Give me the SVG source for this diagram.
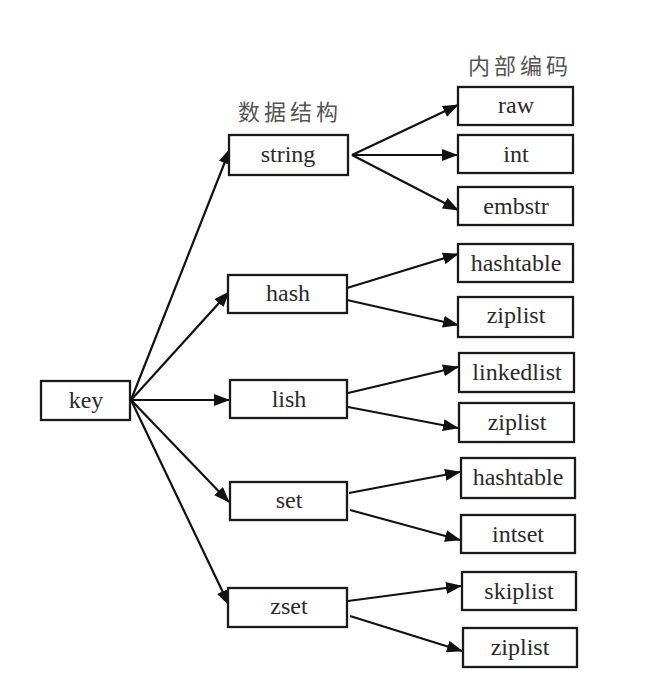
<svg xmlns="http://www.w3.org/2000/svg" width="647" height="682" viewBox="0 0 647 682">
<defs>
<marker id="ah" markerUnits="userSpaceOnUse" markerWidth="16" markerHeight="12" viewBox="0 0 16 12" refX="15" refY="6" orient="auto">
<path d="M0,0 L16,6 L0,12 Z" fill="#111"/>
</marker>
</defs>
<style>
.box{fill:#fff;stroke:#1a1a1a;stroke-width:2.3;}
.t{font-family:'Liberation Serif',serif;font-size:24px;fill:#2a2a2a;text-anchor:middle;}
.h{font-family:'Noto Sans CJK SC',sans-serif;font-size:22px;fill:#555;letter-spacing:4px;text-anchor:middle;}
.c{stroke:#111;stroke-width:2.2;fill:none;marker-end:url(#ah);}
</style>
<rect width="647" height="682" fill="#fff"/>
<text class="h" x="290" y="120">数据结构</text>
<text class="h" x="520" y="74">内部编码</text>
<g id="connectors">
<line class="c" x1="131" y1="400" x2="230" y2="149"/>
<line class="c" x1="131" y1="400" x2="229" y2="292"/>
<line class="c" x1="131" y1="400" x2="229" y2="400"/>
<line class="c" x1="131" y1="400" x2="229" y2="502"/>
<line class="c" x1="131" y1="400" x2="229" y2="605"/>
<line class="c" x1="352" y1="155" x2="458" y2="105"/>
<line class="c" x1="352" y1="155" x2="457" y2="155"/>
<line class="c" x1="352" y1="155" x2="458" y2="210"/>
<line class="c" x1="347" y1="288" x2="458" y2="254"/>
<line class="c" x1="347" y1="300" x2="458" y2="325"/>
<line class="c" x1="348" y1="393" x2="458" y2="367"/>
<line class="c" x1="348" y1="407" x2="458" y2="428"/>
<line class="c" x1="349" y1="493" x2="460" y2="472"/>
<line class="c" x1="350" y1="510" x2="460" y2="540"/>
<line class="c" x1="348" y1="601" x2="461" y2="586"/>
<line class="c" x1="350" y1="616" x2="462" y2="651"/>
</g>
<g id="key"><rect class="box" x="41" y="381" width="89" height="39"/><text class="t" x="86" y="408">key</text></g>
<g id="string"><rect class="box" x="229" y="135" width="119" height="40"/><text class="t" x="288" y="162">string</text></g>
<g id="hash"><rect class="box" x="228" y="275" width="119" height="38"/><text class="t" x="288" y="301">hash</text></g>
<g id="lish"><rect class="box" x="230" y="380" width="117" height="38"/><text class="t" x="289" y="407">lish</text></g>
<g id="set"><rect class="box" x="230" y="482" width="117" height="38"/><text class="t" x="289" y="508">set</text></g>
<g id="zset"><rect class="box" x="228" y="588" width="119" height="39"/><text class="t" x="289" y="614">zset</text></g>
<g id="raw"><rect class="box" x="458" y="87" width="115" height="38"/><text class="t" x="516" y="113">raw</text></g>
<g id="int"><rect class="box" x="458" y="135" width="115" height="38"/><text class="t" x="516" y="162">int</text></g>
<g id="embstr"><rect class="box" x="458" y="187" width="115" height="38"/><text class="t" x="516" y="214">embstr</text></g>
<g id="hashtable1"><rect class="box" x="458" y="244" width="115" height="38"/><text class="t" x="516" y="271">hashtable</text></g>
<g id="ziplist1"><rect class="box" x="458" y="297" width="115" height="40"/><text class="t" x="516" y="323">ziplist</text></g>
<g id="linkedlist"><rect class="box" x="459" y="353" width="115" height="39"/><text class="t" x="517" y="380">linkedlist</text></g>
<g id="ziplist2"><rect class="box" x="459" y="403" width="115" height="39"/><text class="t" x="517" y="430">ziplist</text></g>
<g id="hashtable2"><rect class="box" x="461" y="458" width="114" height="40"/><text class="t" x="518" y="485">hashtable</text></g>
<g id="intset"><rect class="box" x="461" y="515" width="114" height="38"/><text class="t" x="518" y="542">intset</text></g>
<g id="skiplist"><rect class="box" x="462" y="572" width="114" height="38"/><text class="t" x="519" y="599">skiplist</text></g>
<g id="ziplist3"><rect class="box" x="463" y="628" width="114" height="39"/><text class="t" x="520" y="655">ziplist</text></g>
</svg>
